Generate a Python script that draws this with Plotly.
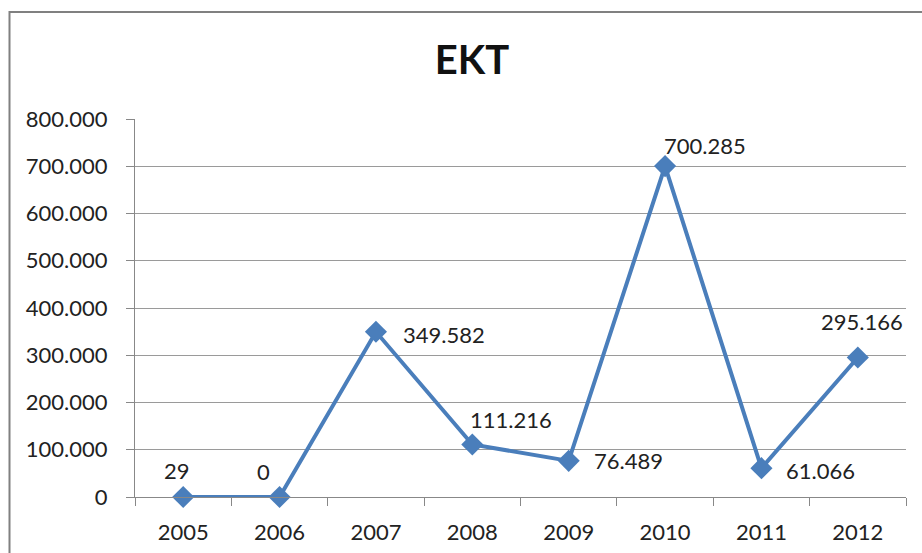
import plotly.graph_objects as go

years = ["2005", "2006", "2007", "2008", "2009", "2010", "2011", "2012"]
values = [29, 0, 349582, 111216, 76489, 700285, 61066, 295166]
title_text = "EKT"

# label placement (anchor, x offset px, y offset px)
label_anchor = ["center", "center", "left", "left", "left", "left", "left", "center"]
label_dx = [-6, -16, 25, -4, 23, -3, 23, 4]
label_dy = [26, 26, -3, 25, 0, 21, -2, 36]

labels = [f"{v:,}".replace(",", ".") for v in values]

fig = go.Figure()
fig.add_trace(go.Scatter(
    x=years, y=values, mode="lines+markers",
    line=dict(color="#4a7ebb", width=4),
    marker=dict(symbol="diamond", size=17, color="#4a7ebb"),
    cliponaxis=False, showlegend=False, hoverinfo="x+y",
))

# annotations on a category axis are positioned by category index
for i, (yv, t, a, dx, dy) in enumerate(zip(values, labels, label_anchor, label_dx, label_dy)):
    fig.add_annotation(x=i, y=yv, text=t, showarrow=False,
                       xanchor=a, yanchor="middle", xshift=dx, yshift=dy,
                       font=dict(family="Lato", size=22, color="#222222"))

W, H = 922, 553
L, R, T, B = 135, 16, 119, 56
pw, ph = W - L - R, H - T - B

def px(x):
    return (x - L) / pw

def py(y):
    return (H - B - y) / ph

fig.add_shape(type="rect", xref="paper", yref="paper",
              x0=px(9.5), x1=px(940), y0=py(12), y1=py(600),
              line=dict(color="#808080", width=2), layer="below")

fig.update_layout(
    width=W, height=H,
    margin=dict(l=L, r=R, t=T, b=B),
    paper_bgcolor="white", plot_bgcolor="white",
    separators=",.",
    font=dict(family="Lato", size=22, color="#222222"),
    title=dict(text=f"<b>{title_text}</b>", x=(472) / W, xanchor="center",
               y=1 - 60 / H, yanchor="middle",
               font=dict(family="Lato", size=40, color="#111111")),
    xaxis=dict(type="category", categoryorder="array", categoryarray=years,
               range=[-0.5, len(years) - 0.5], automargin=False,
               tickson="boundaries", ticks="outside",
               ticklen=8, tickcolor="#888888", showline=True,
               linecolor="#888888", linewidth=1, showgrid=False,
               ticklabelstandoff=16, tickangle=0,
               tickfont=dict(family="Lato", size=22, color="#222222")),
    yaxis=dict(range=[0, 800000], dtick=100000, tickformat=",d",
               automargin=False,
               ticks="outside", ticklen=8, tickcolor="#888888",
               showline=True, linecolor="#888888", linewidth=1,
               showgrid=True, gridcolor="#9a9a9a", gridwidth=1,
               zeroline=False, ticklabelstandoff=14,
               tickfont=dict(family="Lato", size=22, color="#222222")),
)

fig.write_html("out.html")
